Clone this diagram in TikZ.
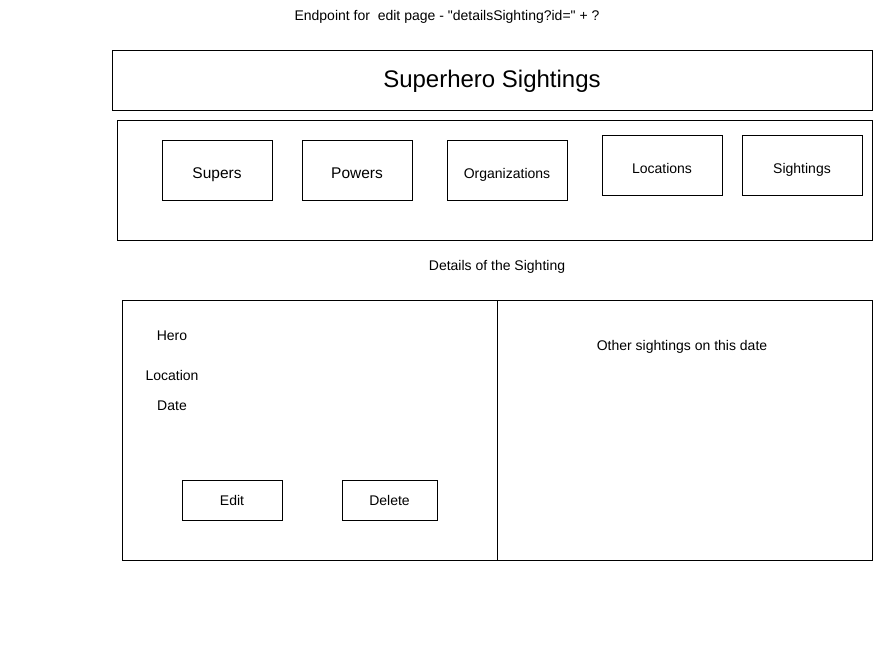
\documentclass[tikz,border=0pt]{standalone}
\usepackage{fontspec}
\setmainfont{Liberation Sans}
\newfontfamily\plainfont{Liberation Sans}
\usetikzlibrary{positioning}

\begin{document}
\begin{tikzpicture}[
    x=1pt, y=-1pt,
    panel/.style={rectangle, draw, line width=1pt, inner sep=0pt, align=center},
    navbtn/.style={panel, minimum width=110pt, minimum height=60pt, text height=20.6pt, text depth=4pt, font=\fontsize{15.5}{18}\selectfont},
    navbtnsmall/.style={panel, minimum width=120pt, minimum height=60pt, text height=20pt, text depth=4pt, font=\fontsize{14}{16}\selectfont},
    actbtn/.style={panel, minimum height=40pt, text height=14pt, text depth=4pt, font=\fontsize{14}{16}\selectfont},
    label/.style={inner sep=0pt, text height=15.4pt, text depth=4pt, font=\fontsize{14}{16}\selectfont}
]

\path[use as bounding box, fill=white] (0,0) rectangle (873,657);

\node[label, font=\fontsize{14}{16}\plainfont] (endpoint) at (447,15)
{Endpoint for\ \ edit page - "detailsSighting?id=" + ?};

\node[panel, minimum width=760pt, minimum height=60pt, text height=20.6pt, text depth=6pt, font=\fontsize{24}{28}\selectfont] (header) at (492,80)
{Superhero Sightings};

\node[panel, minimum width=755pt, minimum height=120pt] (nav) at (494.5,180) {};

\node[navbtn] (supers) at (217,170) {Supers};
\node[navbtn] (powers) at (357,170) {Powers};
\node[navbtnsmall] (orgs) at (507,170) {Organizations};
\node[navbtnsmall] (locations) at (662,165) {Locations};
\node[navbtnsmall] (sightings) at (802,165) {Sightings};

\node[label] (details) at (497,265) {Details of the Sighting};

\node[panel, minimum width=375pt, minimum height=260pt] (info) at (309.5,430) {};
\node[panel, minimum width=375pt, minimum height=260pt] (others) at (684.5,430) {};

\node[label] (hero) at (172,335) {Hero};
\node[label] (location) at (172,375) {Location};
\node[label] (date) at (172,405) {Date};

\node[actbtn, minimum width=100pt] (edit) at (232,500) {Edit};
\node[actbtn, minimum width=95pt] (delete) at (389.5,500) {Delete};

\node[label] (othertext) at (682,345) {Other sightings on this date};

\end{tikzpicture}
\end{document}
